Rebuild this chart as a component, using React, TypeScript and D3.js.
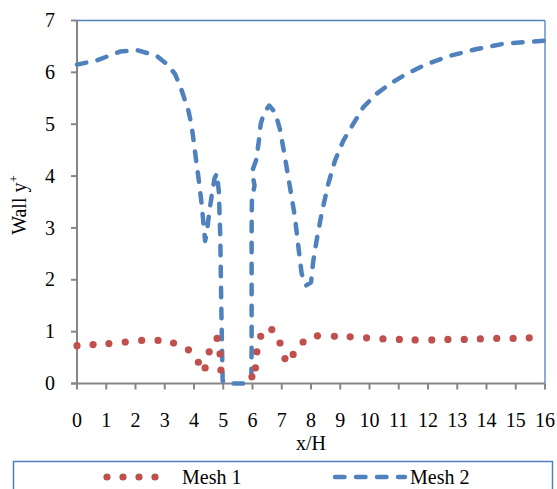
import React from "react";
import * as d3 from "d3";

const xTicks = d3.range(0, 17);
const yTicks = [0, 1, 2, 3, 4, 5, 6, 7];

const mesh1X = [0, 0.55, 1.09, 1.65, 2.21, 2.77, 3.3, 3.81, 4.15, 4.38, 4.52, 4.79, 4.89, 4.92, 5.98, 6.1, 6.15, 6.28, 6.66, 6.94, 7.11, 7.39, 7.73, 8.22, 8.8, 9.34, 9.9, 10.46, 11.02, 11.56, 12.13, 12.68, 13.24, 13.79, 14.35, 14.91, 15.46];
const mesh1Y = [0.73, 0.75, 0.77, 0.8, 0.83, 0.83, 0.78, 0.65, 0.41, 0.3, 0.61, 0.87, 0.57, 0.26, 0.13, 0.3, 0.61, 0.91, 1.04, 0.78, 0.48, 0.56, 0.8, 0.92, 0.91, 0.9, 0.88, 0.86, 0.85, 0.84, 0.84, 0.85, 0.85, 0.86, 0.87, 0.87, 0.88];

const mesh2X = [0, 0.67, 1.47, 2.04, 2.72, 3.07, 3.35, 3.58, 3.81, 3.92, 4.03, 4.15, 4.26, 4.33, 4.38, 4.45, 4.52, 4.6, 4.7, 4.78, 4.85, 4.9, 4.93, 4.96, 4.98, 5.1, 5.8, 5.96, 5.97, 5.97, 5.97, 5.98, 6.07, 5.98, 6.12, 6.2, 6.28, 6.38, 6.57, 6.77, 6.94, 7.11, 7.28, 7.45, 7.57, 7.68, 7.83, 8.0, 8.08, 8.19, 8.36, 8.59, 8.82, 9.11, 9.45, 9.79, 10.25, 10.7, 11.27, 11.96, 12.75, 13.67, 14.57, 15.26, 16];
const mesh2Y = [6.15, 6.23, 6.4, 6.43, 6.32, 6.16, 5.97, 5.65, 5.26, 4.97, 4.49, 3.98, 3.47, 3.05, 2.75, 2.95, 3.3, 3.6, 3.95, 4.05, 3.7, 2.8, 1.6, 0.64, 0.05, 0, 0, 0.05, 0.7, 2.0, 3.0, 3.55, 3.82, 4.08, 4.3, 4.6, 5.0, 5.2, 5.36, 5.23, 4.9, 4.36, 3.79, 3.21, 2.63, 2.12, 1.89, 1.95, 2.37, 2.75, 3.27, 3.85, 4.3, 4.69, 5.01, 5.33, 5.59, 5.78, 5.97, 6.16, 6.32, 6.45, 6.55, 6.58, 6.61];

const legendLabels = ["Mesh 1", "Mesh 2"];

const RED = "#C0504D";
const BLUE = "#4F81BD";
const GREY = "#868686";
const FONT = "'Times New Roman', Times, 'Liberation Serif', 'DejaVu Serif', serif";
const txt = { fontFamily: FONT, fontSize: "20px" } as React.CSSProperties;

export default function App() {
  const W = 557, H = 489;
  const left = 77, right = 545, top = 20.5, bottom = 383.5;
  const x = d3.scaleLinear().domain([0, 16]).range([left, right]);
  const y = d3.scaleLinear().domain([0, 7]).range([bottom, top]);

  const line = d3.line<[number, number]>().x(d => x(d[0])).y(d => y(d[1]));
  const m2: [number, number][] = mesh2X.map((v, i) => [v, mesh2Y[i]]);
  const m1 = mesh1X.map((v, i) => [v, mesh1Y[i]]);

  return (
    <svg width={W} height={H} style={{ position: "absolute", left: 0, top: 0, background: "#fff", fontFamily: FONT }}>
      <rect x={0} y={0} width={W} height={H} fill="#fff" />
      <line x1={left} x2={right} y1={top} y2={top} stroke={BLUE} strokeWidth={1.3} />
      <line x1={right} x2={right} y1={top} y2={bottom} stroke={BLUE} strokeWidth={1.3} />
      <line x1={left} x2={left} y1={top} y2={bottom + 0.5} stroke={GREY} strokeWidth={2} />
      <line x1={left - 6} x2={right} y1={bottom} y2={bottom} stroke={GREY} strokeWidth={2} />
      {yTicks.map(t => (
        <g key={"y" + t}>
          <line x1={left - 6} x2={left} y1={y(t)} y2={y(t)} stroke={GREY} strokeWidth={2} />
          <text x={55} y={y(t)} dy="0.33em" textAnchor="end" style={txt} fill="#000">{t}</text>
        </g>
      ))}
      {xTicks.map(t => (
        <g key={"x" + t}>
          <line x1={x(t)} x2={x(t)} y1={bottom} y2={bottom + 6} stroke={GREY} strokeWidth={2} />
          <text x={x(t)} y={427} textAnchor="middle" style={txt} fill="#000">{t}</text>
        </g>
      ))}
      <text x={(left + right) / 2} y={450} textAnchor="middle" style={txt} fill="#000">x/H</text>
      <text transform={`translate(26,205) rotate(-90)`} textAnchor="middle" style={txt} fill="#000">
        Wall y<tspan style={{ fontSize: "13px" }} dy={-8}>+</tspan>
      </text>

      <path d={line(m2) || ""} fill="none" stroke={BLUE} strokeWidth={4.5} strokeDasharray="9.5 11.5" strokeLinecap="round" strokeLinejoin="round" />
      {m1.map((d, i) => (
        <circle key={"m1" + i} cx={x(d[0])} cy={y(d[1])} r={3.6} fill={RED} />
      ))}

      <rect x={13.5} y={461.5} width={539} height={40} fill="none" stroke={BLUE} strokeWidth={1.5} />
      <line x1={107} x2={171} y1={477} y2={477} stroke={RED} strokeWidth={7.2} strokeDasharray="0 16" strokeLinecap="round" />
      <text x={182} y={484} style={txt} fill="#000">{legendLabels[0]}</text>
      <line x1={335} x2={405} y1={477} y2={477} stroke={BLUE} strokeWidth={4.5} strokeDasharray="9.5 11.5" strokeLinecap="round" />
      <text x={410} y={484} style={txt} fill="#000">{legendLabels[1]}</text>
    </svg>
  );
}
